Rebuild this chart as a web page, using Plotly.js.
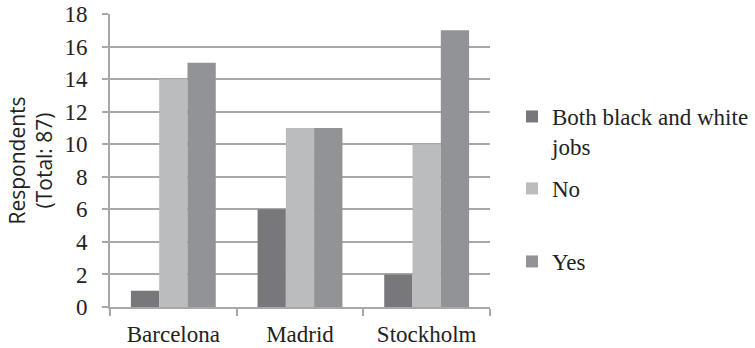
<!DOCTYPE html>
<html>
<head>
<meta charset="utf-8">
<script src="https://cdn.plot.ly/plotly-3.0.1.min.js"></script>
<style>html,body{margin:0;padding:0;background:#fff;}#chart{width:755px;height:348px;}</style>
</head>
<body>
<div id="chart"></div>
<script>
const cities = ["Barcelona", "Madrid", "Stockholm"];
const seriesNames = ["Both black and white<br>jobs", "No", "Yes"];
const bothValues = [1, 6, 2];
const noValues = [14, 11, 10];
const yesValues = [15, 11, 17];
const yTicks = [0, 2, 4, 6, 8, 10, 12, 14, 16, 18];

const colors = ["#78787c", "#bbbcbe", "#929396"];
const serif = "Liberation Serif, Times New Roman, serif";
const sans = "Open Sans, sans-serif";
const gridColor = "#a8a8a8";
const textColor = "#222222";

const values = [bothValues, noValues, yesValues];
const legendIds = ["legend", "legend2", "legend3"];
const traces = values.map((v, i) => ({
  type: "bar",
  name: seriesNames[i],
  x: cities,
  y: v,
  marker: {color: colors[i], line: {width: 0}},
  legend: legendIds[i],
  hoverinfo: "skip"
}));

const legendBase = {
  xref: "container", yref: "container",
  xanchor: "left", yanchor: "top",
  bgcolor: "rgba(0,0,0,0)", borderwidth: 0,
  font: {family: serif, size: 23, color: textColor},
  itemclick: false, itemdoubleclick: false
};

const layout = {
  width: 755, height: 348,
  margin: {l: 110, r: 265, t: 14, b: 41, pad: 0},
  paper_bgcolor: "#ffffff", plot_bgcolor: "#ffffff",
  barmode: "group", bargap: 0.33, bargroupgap: 0,
  showlegend: true,
  legend: Object.assign({}, legendBase, {x: 512/755, y: 1 - 95/348, valign: "top"}),
  legend2: Object.assign({}, legendBase, {x: 512/755, y: 1 - 167/348}),
  legend3: Object.assign({}, legendBase, {x: 512/755, y: 1 - 240/348}),
  xaxis: {
    type: "category",
    tickson: "boundaries",
    ticks: "outside", ticklen: 7, tickwidth: 2, tickcolor: gridColor,
    showline: true, linecolor: gridColor, linewidth: 2,
    showgrid: false,
    tickfont: {family: serif, size: 23, color: textColor},
    ticklabelstandoff: 5,
    fixedrange: true
  },
  yaxis: {
    range: [0, 18],
    tickvals: yTicks,
    ticktext: yTicks.map(String),
    ticks: "outside", ticklen: 6, tickwidth: 2, tickcolor: gridColor,
    showline: true, linecolor: gridColor, linewidth: 2,
    showgrid: true, gridcolor: gridColor, gridwidth: 2,
    zeroline: false,
    tickfont: {family: serif, size: 23, color: textColor},
    ticklabelstandoff: 10,
    title: {text: "Respondents<br>(Total: 87)", font: {family: sans, size: 21, color: textColor}, standoff: 6},
    fixedrange: true
  }
};

Plotly.newPlot("chart", traces, layout, {displayModeBar: false, staticPlot: true});
</script>
</body>
</html>
